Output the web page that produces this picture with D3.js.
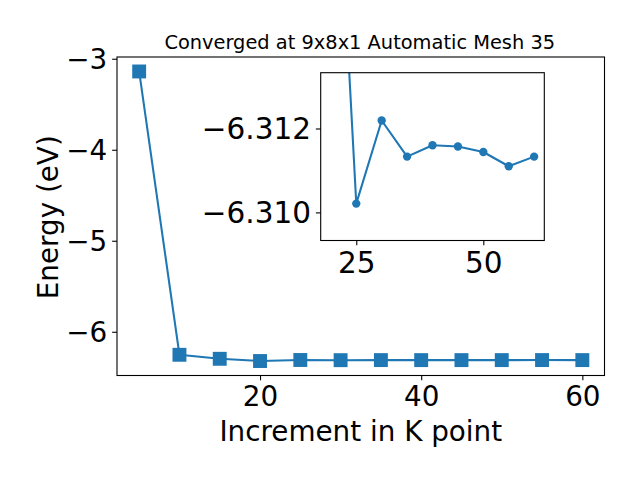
<!DOCTYPE html>
<html>
<head>
<meta charset="utf-8">
<script src="https://cdn.jsdelivr.net/npm/d3@7"></script>
<style>
  html, body { margin: 0; padding: 0; background: #fff; }
  svg { display: block; font-family: "DejaVu Sans", sans-serif; }
</style>
</head>
<body>
<svg id="chart" width="640" height="480"></svg>
<script>
// ---- data ----
const kpoints = [5, 10, 15, 20, 25, 30, 35, 40, 45, 50, 55, 60];
const energy = [-3.14, -6.253, -6.297, -6.3215, -6.31021, -6.31219, -6.31133, -6.31160, -6.31157, -6.31144, -6.31110, -6.31133];
const insetStart = 20;
const mainXTicks = [20, 40, 60];
const mainYTicks = [-6, -5, -4, -3];
const insetXTicks = [25, 50];
const insetYTicks = [-6.312, -6.310];
const titleText = "Converged at 9x8x1 Automatic Mesh 35";
const xLabel = "Increment in K point";
const yLabel = "Energy (eV)";

const color = "#1f77b4";
const svg = d3.select("#chart");
const data = kpoints.map((k, i) => ({ k, e: energy[i] }));
const insetData = data.filter(d => d.k >= insetStart);

// ---- main axes ----
const M = { left: 117, right: 604.5, top: 57, bottom: 375.5 };
const xMin = d3.min(kpoints), xMax = d3.max(kpoints);
const xPad = (xMax - xMin) * 0.05;
const yMin = d3.min(energy), yMax = d3.max(energy);
const yPad = (yMax - yMin) * 0.05;
const x = d3.scaleLinear().domain([xMin - xPad, xMax + xPad]).range([M.left, M.right]);
const y = d3.scaleLinear().domain([yMin - yPad, yMax + yPad]).range([M.bottom, M.top]);

const tickLen = 4.86, tickPad = 4.86, fs = 27.8, fsInset = 29.5;

function styleAxis(size) {
  return g => {
    g.select(".domain").remove();
    g.selectAll(".tick line").attr("stroke", "#000").attr("stroke-width", 1.1);
    g.selectAll(".tick text").attr("fill", "#000").style("font-size", size + "px")
      .style("font-family", '"DejaVu Sans", sans-serif');
  };
}

svg.append("g").attr("transform", `translate(0,${M.bottom})`)
  .call(d3.axisBottom(x).tickValues(mainXTicks).tickFormat(d3.format("d")).tickSize(tickLen).tickPadding(tickPad))
  .call(styleAxis(fs))
  .call(g => g.selectAll(".tick text").attr("dy", "0.76em"));

svg.append("g").attr("transform", `translate(${M.left},0)`)
  .call(d3.axisLeft(y).tickValues(mainYTicks).tickFormat(d3.format("d")).tickSize(tickLen).tickPadding(tickPad))
  .call(styleAxis(fs))
  .call(g => g.selectAll(".tick text").attr("dy", "0.35em"));

svg.append("clipPath").attr("id", "mainClip").append("rect")
  .attr("x", M.left).attr("y", M.top).attr("width", M.right - M.left).attr("height", M.bottom - M.top);

const line = d3.line().x(d => x(d.k)).y(d => y(d.e));
const mg = svg.append("g").attr("clip-path", "url(#mainClip)");
mg.append("path").datum(data).attr("d", line).attr("fill", "none")
  .attr("stroke", color).attr("stroke-width", 2.08).attr("stroke-linejoin", "round");
const ms = 13.9;
mg.selectAll("rect.m").data(data).join("rect").attr("class", "m")
  .attr("x", d => x(d.k) - ms / 2).attr("y", d => y(d.e) - ms / 2)
  .attr("width", ms).attr("height", ms).attr("fill", color);

svg.append("rect").attr("x", M.left).attr("y", M.top)
  .attr("width", M.right - M.left).attr("height", M.bottom - M.top)
  .attr("fill", "none").attr("stroke", "#000").attr("stroke-width", 1.1);

// title and labels
svg.append("text").attr("x", (M.left + M.right) / 2 - 1).attr("y", 48.5)
  .attr("text-anchor", "middle").style("font-size", "19.4px").attr("fill", "#000").text(titleText);
svg.append("text").attr("x", (M.left + M.right) / 2).attr("y", 441)
  .attr("text-anchor", "middle").style("font-size", fs + "px").attr("fill", "#000").text(xLabel);
svg.append("text").attr("transform", `translate(57.5,${(M.top + M.bottom) / 2 + 1}) rotate(-90)`)
  .attr("text-anchor", "middle").style("font-size", fs + "px").attr("fill", "#000").text(yLabel);

// ---- inset ----
const I = { left: 320.7, right: 544.3, top: 72.7, bottom: 240.5 };
const ixMin = d3.min(insetData, d => d.k), ixMax = d3.max(insetData, d => d.k);
const ixPad = (ixMax - ixMin) * 0.05;
const ix = d3.scaleLinear().domain([ixMin - ixPad, ixMax + ixPad]).range([I.left, I.right]);
const iy = d3.scaleLinear().domain([-6.30933, -6.31333]).range([I.bottom, I.top]);

svg.append("rect").attr("x", I.left).attr("y", I.top)
  .attr("width", I.right - I.left).attr("height", I.bottom - I.top).attr("fill", "#fff");

svg.append("g").attr("transform", `translate(0,${I.bottom})`)
  .call(d3.axisBottom(ix).tickValues(insetXTicks).tickFormat(d3.format("d")).tickSize(tickLen).tickPadding(tickPad))
  .call(styleAxis(fsInset))
  .call(g => g.selectAll(".tick text").attr("dy", "0.76em"));

svg.append("g").attr("transform", `translate(${I.left},0)`)
  .call(d3.axisLeft(iy).tickValues(insetYTicks).tickFormat(d3.format(".3f")).tickSize(tickLen).tickPadding(tickPad))
  .call(styleAxis(fsInset))
  .call(g => g.selectAll(".tick text").attr("dy", "0.35em"));

svg.append("clipPath").attr("id", "insetClip").append("rect")
  .attr("x", I.left).attr("y", I.top).attr("width", I.right - I.left).attr("height", I.bottom - I.top);

const iline = d3.line().x(d => ix(d.k)).y(d => iy(d.e));
const ig = svg.append("g").attr("clip-path", "url(#insetClip)");
ig.append("path").datum(insetData).attr("d", iline).attr("fill", "none")
  .attr("stroke", color).attr("stroke-width", 2.08).attr("stroke-linejoin", "round");
ig.selectAll("circle").data(insetData).join("circle")
  .attr("cx", d => ix(d.k)).attr("cy", d => iy(d.e)).attr("r", 4.17).attr("fill", color);

svg.append("rect").attr("x", I.left).attr("y", I.top)
  .attr("width", I.right - I.left).attr("height", I.bottom - I.top)
  .attr("fill", "none").attr("stroke", "#000").attr("stroke-width", 1.1);
</script>
</body>
</html>
